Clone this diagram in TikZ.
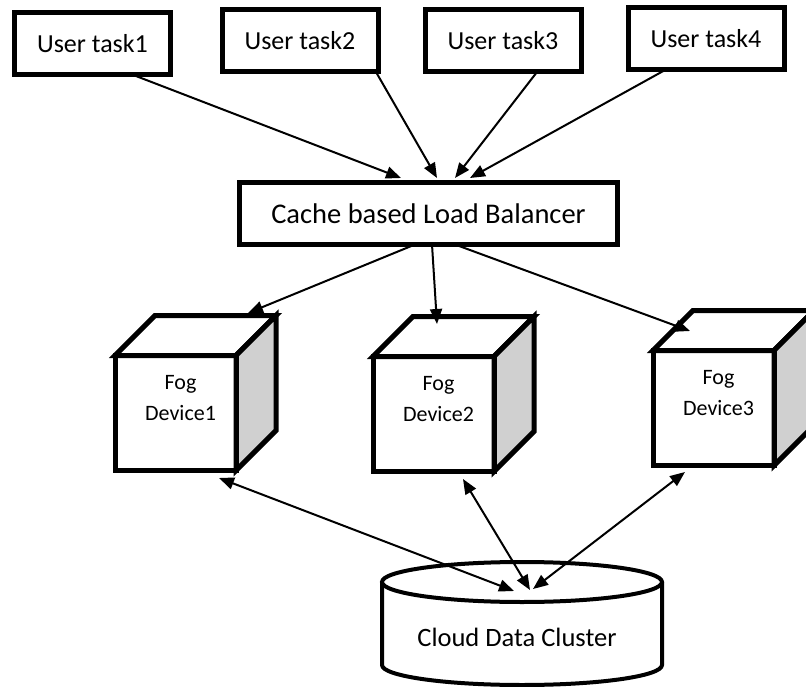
\documentclass[tikz,border=0pt]{standalone}
\usepackage{fontspec}
\setmainfont{Carlito}
\usetikzlibrary{arrows.meta}
\definecolor{sidegray}{RGB}{208,208,208}
\begin{document}
\begin{tikzpicture}[x=1pt,y=1pt,
  taskbox/.style={draw,line width=5pt,outer sep=0pt,inner sep=0pt,minimum width=156pt,minimum height=62pt,font=\fontsize{26}{30}\selectfont},
  lbbox/.style={draw,line width=5pt,outer sep=0pt,inner sep=0pt,minimum width=378pt,minimum height=62pt,font=\fontsize{28.5}{32}\selectfont},
  frontface/.style={draw,line width=5pt,fill=white,outer sep=0pt,inner sep=0pt,minimum width=121pt,minimum height=115pt},
  cubeline/.style={line width=5pt,line join=miter},
  devlabel/.style={align=center,font=\fontsize{22}{31}\selectfont,inner sep=0pt},
  conn/.style={line width=2pt,-{Triangle[length=15pt,width=12pt]}},
  biconn/.style={line width=2pt,{Triangle[length=15pt,width=12pt]}-{Triangle[length=15pt,width=12pt]}},
  cylline/.style={line width=4pt,fill=white}
]
\clip (0,0) rectangle (806,-687);
\useasboundingbox (0,0) rectangle (806,-687);

% user tasks
\node[taskbox] (t1) at (92.5,-43.5) {User task1};
\node[taskbox] (t2) at (300,-41) {User task2};
\node[taskbox] (t3) at (503,-41) {User task3};
\node[taskbox] (t4) at (706,-38.5) {User task4};

% load balancer
\node[lbbox] (lb) at (428.5,-213.5) {Cache based Load Balancer};

% cubes
\foreach \n/\cx/\cy in {1/175.5/-413, 2/433.5/-414, 3/713.5/-408}{
  \node[frontface] (f\n) at (\cx,\cy) {};
  \draw[cubeline,fill=white] (f\n.north west) -- ++(40,40) -- ([shift={(40,40)}]f\n.north east) -- (f\n.north east) -- cycle;
  \draw[cubeline,fill=sidegray] (f\n.north east) -- ++(40,40) -- ([shift={(40,40)}]f\n.south east) -- (f\n.south east) -- cycle;
  \draw[line width=5pt] (f\n.north west) rectangle (f\n.south east);
}
\node[devlabel] (d1) at ([xshift=5pt,yshift=15pt]f1.center) {Fog\\Device1};
\node[devlabel] (d2) at ([xshift=5pt,yshift=15pt]f2.center) {Fog\\Device2};
\node[devlabel] (d3) at ([xshift=5pt,yshift=15pt]f3.center) {Fog\\Device3};

% cylinder
\draw[cylline] (382,-582) -- (382,-665) arc[start angle=180,end angle=360,x radius=140,y radius=20] -- (662,-582);
\draw[cylline] (522,-582) ellipse[x radius=140,y radius=20];
\coordinate (cyl) at (522,-582);
\node[font=\fontsize{26.5}{30}\selectfont,inner sep=0pt] (cloud) at (517,-637) {Cloud Data Cluster};

% arrows into load balancer
\draw[conn] ([xshift=39.5pt]t1.south) -- ([xshift=-27.5pt,yshift=4.5pt]lb.north);
\draw[conn] ([xshift=76pt]t2.south) -- ([xshift=8.5pt,yshift=4.5pt]lb.north);
\draw[conn] ([xshift=34pt]t3.south) -- ([xshift=26.5pt,yshift=4.5pt]lb.north);
\draw[conn] ([xshift=-40pt]t4.south) -- ([xshift=41.5pt,yshift=4.5pt]lb.north);

% arrows to fog devices
\draw[conn] ([xshift=-13.5pt]lb.south) -- ([xshift=72.5pt,yshift=42.5pt]f1.north);
\draw[conn] ([xshift=3.5pt]lb.south) -- ([xshift=3.5pt,yshift=32.5pt]f2.north);
\draw[conn] ([xshift=26.5pt]lb.south) -- ([xshift=-23.5pt,yshift=19.5pt]f3.north);

% bidirectional arrows to cloud
\draw[biconn] ([xshift=43.5pt,yshift=-7.5pt]f1.south) -- ([xshift=-8pt,yshift=-9pt]cyl);
\draw[biconn] ([xshift=29.5pt,yshift=-7.5pt]f2.south) -- ([xshift=8pt,yshift=-8pt]cyl);
\draw[biconn] ([xshift=-28.5pt,yshift=-6.5pt]f3.south) -- ([xshift=11pt,yshift=-7pt]cyl);
\end{tikzpicture}
\end{document}
